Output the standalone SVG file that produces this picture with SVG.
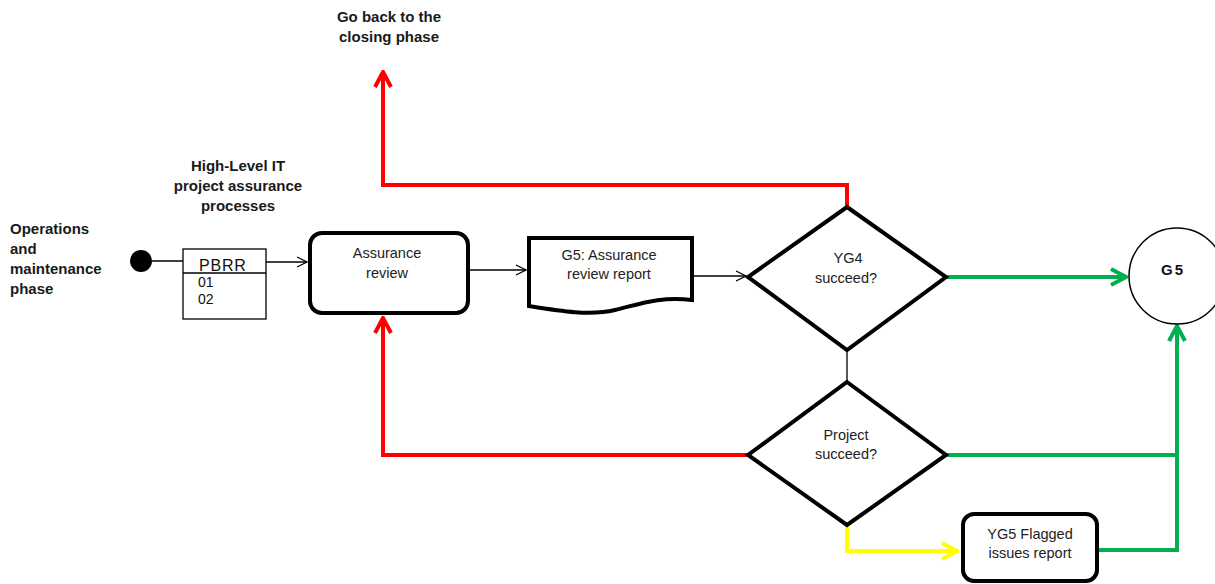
<svg xmlns="http://www.w3.org/2000/svg" width="1215" height="584" viewBox="0 0 1215 584">
  <style>
    .lbl { font-family: "Liberation Sans", Arial, sans-serif; font-size: 15px; font-weight: bold; fill: #1a1a1a; }
    .txt { font-family: "Liberation Sans", Arial, sans-serif; font-size: 14.5px; fill: #222; text-anchor: middle; }
    .shape { fill: #fff; stroke: #000; stroke-width: 4; stroke-linejoin: miter; }
    .thin { fill: none; stroke: #000; stroke-width: 1.3; }
    .red { fill: none; stroke: #ff0000; stroke-width: 4; }
    .green { fill: none; stroke: #00b050; stroke-width: 4; }
    .yellow { fill: none; stroke: #ffff00; stroke-width: 4; }
  </style>
  <defs>
    <marker id="openBlack" viewBox="0 0 12 12" refX="11" refY="6" markerWidth="12" markerHeight="12" markerUnits="userSpaceOnUse" orient="auto">
      <path d="M1,1 L11,6 L1,11" fill="none" stroke="#000" stroke-width="1.3"/>
    </marker>
    <marker id="openGreen" viewBox="0 0 20 20" refX="18" refY="10" markerWidth="20" markerHeight="20" markerUnits="userSpaceOnUse" orient="auto">
      <path d="M3,2 L18,10 L3,18" fill="none" stroke="#00b050" stroke-width="4"/>
    </marker>
    <marker id="openYellow" viewBox="0 0 20 20" refX="18" refY="10" markerWidth="20" markerHeight="20" markerUnits="userSpaceOnUse" orient="auto">
      <path d="M3,2 L18,10 L3,18" fill="none" stroke="#ffff00" stroke-width="4"/>
    </marker>
    <marker id="openRed" viewBox="0 0 20 20" refX="18" refY="10" markerWidth="20" markerHeight="20" markerUnits="userSpaceOnUse" orient="auto">
      <path d="M3,2 L18,10 L3,18" fill="none" stroke="#ff0000" stroke-width="4"/>
    </marker>
  </defs>

  <!-- free labels -->
  <g id="label-closing">
    <text class="lbl" x="389" y="22" text-anchor="middle">Go back to the</text>
    <text class="lbl" x="389" y="42" text-anchor="middle">closing phase</text>
  </g>
  <g id="label-processes">
    <text class="lbl" x="238" y="171" text-anchor="middle">High-Level IT</text>
    <text class="lbl" x="238" y="191" text-anchor="middle">project assurance</text>
    <text class="lbl" x="238" y="211" text-anchor="middle">processes</text>
  </g>
  <g id="label-phase">
    <text class="lbl" x="10" y="234">Operations</text>
    <text class="lbl" x="10" y="254">and</text>
    <text class="lbl" x="10" y="274">maintenance</text>
    <text class="lbl" x="10" y="294">phase</text>
  </g>

  <!-- connectors -->
  <g id="connectors">
    <line class="thin" x1="141" y1="261" x2="183" y2="261"/>
    <line class="thin" x1="266" y1="262" x2="307" y2="262" marker-end="url(#openBlack)"/>
    <line class="thin" x1="469" y1="270" x2="526" y2="270" marker-end="url(#openBlack)"/>
    <line class="thin" x1="693" y1="276" x2="746" y2="276" marker-end="url(#openBlack)"/>
    <line class="thin" x1="847" y1="350" x2="847" y2="382"/>
    <path class="red" d="M847,207 V185 H383 V72" marker-end="url(#openRed)"/>
    <path class="red" d="M748,455 H383 V318" marker-end="url(#openRed)"/>
    <path class="green" d="M946,277 H1126" marker-end="url(#openGreen)"/>
    <path class="green" d="M946,455 H1177"/>
    <path class="green" d="M1098,550 H1177 V326" marker-end="url(#openGreen)"/>
    <path class="yellow" d="M847,525 V551 H957" marker-end="url(#openYellow)"/>
  </g>

  <g id="start">
    <circle cx="141" cy="261" r="11" fill="#000"/>
  </g>

  <g id="pbrr">
    <rect x="183" y="249" width="83" height="70" fill="#fff" stroke="#000" stroke-width="1.3"/>
    <line x1="183" y1="273" x2="266" y2="273" stroke="#000" stroke-width="1.3"/>
    <text x="199" y="271" font-family="Liberation Sans, Arial, sans-serif" font-size="16" letter-spacing="0.8" fill="#111">PBRR</text>
    <text x="198" y="287" font-family="Liberation Sans, Arial, sans-serif" font-size="14" fill="#111">01</text>
    <text x="198" y="304" font-family="Liberation Sans, Arial, sans-serif" font-size="14" fill="#111">02</text>
  </g>

  <g id="assurance-review">
    <rect class="shape" x="310" y="233" width="158" height="80" rx="12"/>
    <text class="txt" x="387" y="258">Assurance</text>
    <text class="txt" x="387" y="278">review</text>
  </g>

  <g id="review-report">
    <path class="shape" d="M529,238 H692 V300 C660,296 640,304 615,310 C590,316 560,311 529,306 Z"/>
    <text class="txt" x="609" y="260">G5: Assurance</text>
    <text class="txt" x="609" y="279">review report</text>
  </g>

  <g id="yg4-decision">
    <polygon class="shape" points="847,207 946,277 847,350 748,277"/>
    <text class="txt" x="848" y="263">YG4</text>
    <text class="txt" x="846" y="283">succeed?</text>
  </g>

  <g id="project-decision">
    <polygon class="shape" points="847,382 946,455 847,525 748,455"/>
    <text class="txt" x="846" y="440">Project</text>
    <text class="txt" x="846" y="459">succeed?</text>
  </g>

  <g id="g5">
    <circle cx="1177" cy="276" r="48" fill="#fff" stroke="#000" stroke-width="1.5"/>
    <text x="1173" y="275" font-family="Liberation Sans, Arial, sans-serif" font-size="15" font-weight="bold" letter-spacing="2" fill="#111" text-anchor="middle">G5</text>
  </g>

  <g id="yg5-report">
    <rect class="shape" x="963" y="514" width="134" height="67" rx="11"/>
    <text class="txt" x="1030" y="539">YG5 Flagged</text>
    <text class="txt" x="1030" y="558">issues report</text>
  </g>
</svg>
